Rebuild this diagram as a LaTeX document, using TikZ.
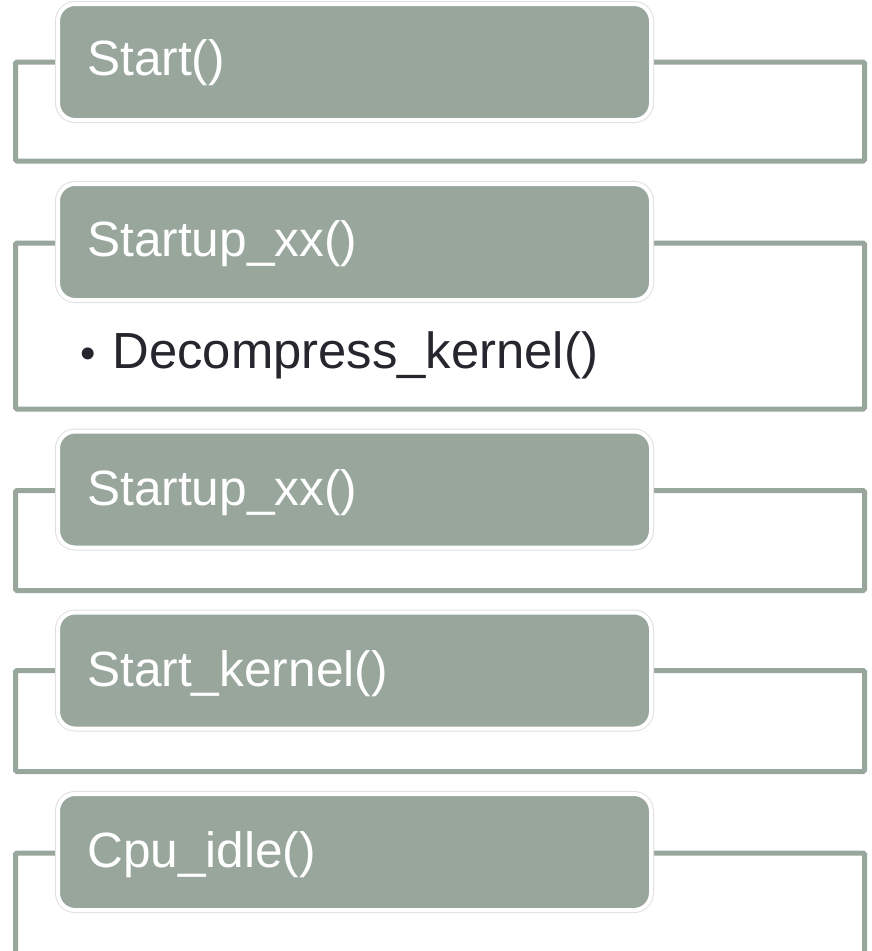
\documentclass[tikz,border=0pt]{standalone}
\usepackage{fontspec}
\setmainfont{Liberation Sans}
\definecolor{sage}{HTML}{98A69C}
\definecolor{ink}{HTML}{26262E}
\begin{document}
\begin{tikzpicture}[x=1pt,y=-1pt,
  frame/.style={draw=sage, line width=5pt, rounded corners=1.5pt,
    minimum width=849pt, inner sep=0pt},
  stage/.style={fill=sage, draw=white, line width=4pt, rounded corners=17pt,
    minimum width=593pt, minimum height=116pt, inner sep=0pt,
    preaction={draw=black!12, line width=6pt}},
  stagetext/.style={text=white, font=\fontsize{49.6pt}{58pt}\selectfont,
    anchor=base west, inner sep=0pt},
  bodytext/.style={text=ink, font=\fontsize{50.8pt}{60pt}\selectfont,
    anchor=base west, inner sep=0pt},
]
\clip (0,0) rectangle (872,951);
\fill[white] (0,0) rectangle (872,951);

% outer frames behind each stage
\node[frame, minimum height=99pt]  (f1) at (440,111.5) {};
\node[frame, minimum height=166pt] (f2) at (440,326) {};
\node[frame, minimum height=100pt] (f3) at (440,540.5) {};
\node[frame, minimum height=101pt] (f4) at (440,721) {};
\node[frame, minimum height=140pt] (f5) at (440,923) {};

% stage headers
\node[stage] (s1) at (354.5,62) {};
\node[stage] (s2) at (354.5,242) {};
\node[stage] (s3) at (354.5,489.5) {};
\node[stage] (s4) at (354.5,670.5) {};
\node[stage] (s5) at (354.5,852) {};

\node[stagetext] (t1) at (87,75)  {Start()};
\node[stagetext] (t2) at (87,256) {Startup\_xx()};
\node[stagetext] (t3) at (87,505) {Startup\_xx()};
\node[stagetext] (t4) at (87,686) {Start\_kernel()};
\node[stagetext] (t5) at (87,867) {Cpu\_idle()};

% bullet item under the second stage
\node[bodytext] (b2) at (80,368) {{\fontsize{44pt}{50pt}\selectfont\textbullet}\hspace{17pt}Decompress\_kernel()};
\end{tikzpicture}
\end{document}
